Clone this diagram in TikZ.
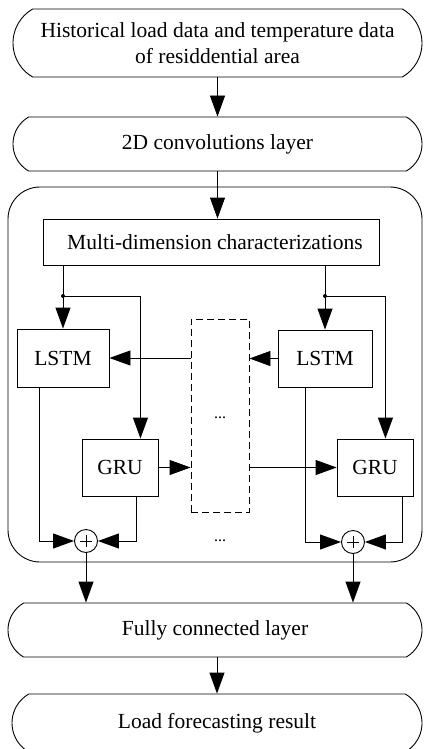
\documentclass[tikz,border=0pt]{standalone}
\usepackage{fontspec}
\setmainfont{Liberation Serif}
\usetikzlibrary{shapes.misc,arrows.meta,calc}
\begin{document}
\begin{tikzpicture}[x=1pt,y=-1pt,line width=0.9pt,
  every node/.style={font=\fontsize{21.5}{26}\selectfont},
  capbox/.style={draw,rounded rectangle,rounded rectangle arc length=120,inner sep=0pt,align=center},
  blk/.style={draw,rectangle,inner sep=0pt},
  arr/.style={-{Triangle[length=21pt,width=15pt]}},
  sumc/.style={draw,circle,minimum size=23pt,inner sep=0pt},
  jdot/.style={circle,fill,inner sep=0pt,minimum size=4pt},
  dotstyle/.style={font=\fontsize{16}{18}\selectfont}]
\useasboundingbox (0,0) rectangle (423,749);
\begin{scope}
\clip (0,0) rectangle (423,749);
\node[capbox,minimum width=409pt,minimum height=68pt] (top) at (217.5,43) {Historical load data and temperature data\\of residdential area};
\node[capbox,minimum width=409pt,minimum height=54pt] (conv) at (217.5,144) {2D convolutions layer};
\node[draw,rectangle,rounded corners=32pt,minimum width=414pt,minimum height=375pt] (big) at (215,374.5) {};
\node[blk,minimum width=336pt,minimum height=46pt] (multi) at (211,242) {\hspace*{8pt}Multi-dimension characterizations};
\node[blk,minimum width=92pt,minimum height=58pt] (lstmL) at (63,358) {LSTM};
\node[blk,minimum width=94pt,minimum height=57pt] (lstmR) at (325,358.5) {LSTM};
\node[blk,minimum width=76pt,minimum height=57pt] (gruL) at (120,467.5) {GRU};
\node[blk,minimum width=76pt,minimum height=57pt] (gruR) at (375,467.5) {GRU};
\node[blk,dash pattern=on 7pt off 4pt,minimum width=58pt,minimum height=193pt] (dash) at (220,415.5) {};
\node[dotstyle] (dotsA) at (220,418) {...};
\node[dotstyle] (dotsB) at (220,541) {...};
\node[sumc] (plusL) at (86,541) {};
\node[sumc] (plusR) at (353,542) {};
\draw[line width=0.6pt] ($(plusL)+(-6,0)$) -- ($(plusL)+(6,0)$) ($(plusL)+(0,-6)$) -- ($(plusL)+(0,6)$);
\draw[line width=0.6pt] ($(plusR)+(-6,0)$) -- ($(plusR)+(6,0)$) ($(plusR)+(0,-6)$) -- ($(plusR)+(0,6)$);
\node[capbox,minimum width=414pt,minimum height=54pt] (fc) at (215,630) {Fully connected layer};
\node[capbox,minimum width=410pt,minimum height=58pt] (res) at (217,723) {Load forecasting result};
\coordinate (jL) at (63,296);
\coordinate (jR) at (325,296);
\node[jdot] at (jL) {};
\node[jdot] at (jR) {};
% connectors
\draw[arr] (top.south) -- (conv.north);
\draw[arr] (conv.south) -- (conv.south |- multi.north);
\draw[arr] (multi.south -| lstmL.north) -- (lstmL.north);
\draw[arr] (multi.south -| lstmR.north) -- (lstmR.north);
\draw[arr] (jL) -| ($(gruL.north east)+(-18,0)$);
\draw[arr] (jR) -| ($(gruR.north east)+(-28,0)$);
\draw[arr] (dash.west |- lstmL.east) -- (lstmL.east);
\draw[arr] (lstmR.west) -- (dash.east |- lstmR.west);
\draw[arr] (gruL.east) -- (dash.west |- gruL.east);
\draw[arr] (dash.east |- gruR.west) -- (gruR.west);
\draw[arr] ($(lstmL.south west)+(23,0)$) |- (plusL.west);
\draw[arr] ($(gruL.south east)+(-22,0)$) |- (plusL.east);
\draw[arr] ($(lstmR.south west)+(28,0)$) |- (plusR.west);
\draw[arr] ($(gruR.south east)+(-11,0)$) |- (plusR.east);
\draw[arr] (plusL.south) -- (plusL.south |- fc.north);
\draw[arr] (plusR.south) -- (plusR.south |- fc.north);
\draw[arr] (fc.south -| res.north) -- (res.north);
\end{scope}
\end{tikzpicture}
\end{document}
